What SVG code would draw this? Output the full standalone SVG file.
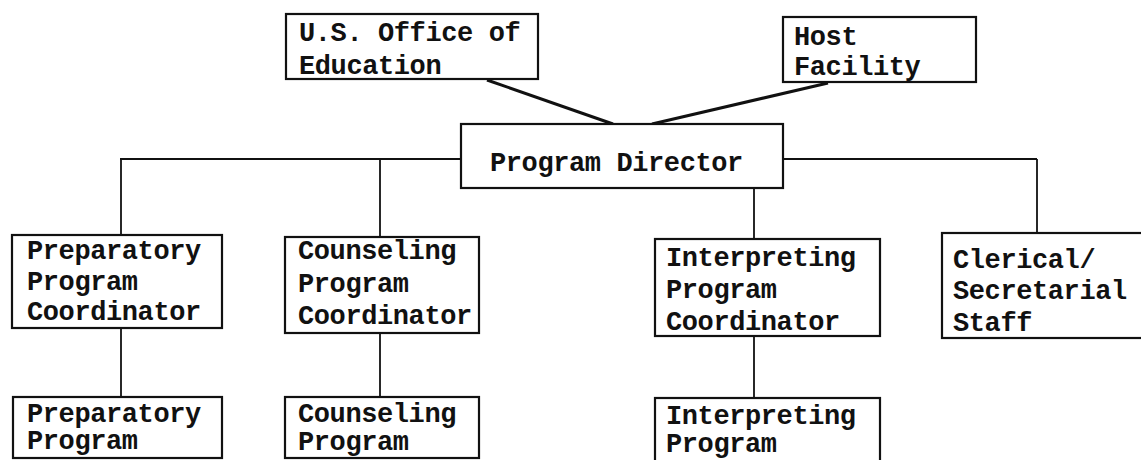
<svg xmlns="http://www.w3.org/2000/svg" width="1141" height="460" viewBox="0 0 1141 460">
<style>
.box{fill:#fff;stroke:#111;stroke-width:2.2}
.t{font-family:"Liberation Mono","DejaVu Sans Mono",monospace;font-size:27px;letter-spacing:-0.4px;fill:#111;font-weight:bold}
.c{stroke:#111;stroke-width:1.8;fill:none}
.d{stroke:#111;stroke-width:3;fill:none}
</style>
<rect width="1141" height="460" fill="#fff"/>
<g id="connectors">
<line class="d" x1="487" y1="80" x2="613" y2="124"/>
<line class="d" x1="828" y1="83" x2="652" y2="124"/>
<line class="c" x1="120" y1="159" x2="461" y2="159"/>
<line class="c" x1="783" y1="159" x2="1037" y2="159"/>
<line class="c" x1="121" y1="159" x2="121" y2="235"/>
<line class="c" x1="380" y1="159" x2="380" y2="237"/>
<line class="c" x1="754" y1="188" x2="754" y2="239"/>
<line class="c" x1="1037" y1="159" x2="1037" y2="233"/>
<line class="c" x1="121" y1="328" x2="121" y2="397"/>
<line class="c" x1="380" y1="333" x2="380" y2="397"/>
<line class="c" x1="754" y1="336" x2="754" y2="398"/>
</g>
<g id="us-office">
<rect class="box" x="286" y="14" width="252" height="65"/>
<text class="t" x="299" y="41">U.S. Office of</text>
<text class="t" x="299" y="74">Education</text>
</g>
<g id="host-facility">
<rect class="box" x="783" y="17" width="193" height="65"/>
<text class="t" x="794" y="45">Host</text>
<text class="t" x="794" y="75">Facility</text>
</g>
<g id="program-director">
<rect class="box" x="461" y="124" width="322" height="64"/>
<text class="t" x="490" y="171">Program Director</text>
</g>
<g id="prep-coord">
<rect class="box" x="12" y="235" width="210" height="93"/>
<text class="t" x="27" y="259">Preparatory</text>
<text class="t" x="27" y="290">Program</text>
<text class="t" x="27" y="320">Coordinator</text>
</g>
<g id="couns-coord">
<rect class="box" x="285" y="237" width="194" height="96"/>
<text class="t" x="298" y="259">Counseling</text>
<text class="t" x="298" y="292">Program</text>
<text class="t" x="298" y="324">Coordinator</text>
</g>
<g id="interp-coord">
<rect class="box" x="655" y="239" width="225" height="97"/>
<text class="t" x="666" y="266">Interpreting</text>
<text class="t" x="666" y="298">Program</text>
<text class="t" x="666" y="330">Coordinator</text>
</g>
<g id="clerical">
<rect class="box" x="942" y="233" width="210" height="105"/>
<text class="t" x="953" y="268">Clerical/</text>
<text class="t" x="953" y="299">Secretarial</text>
<text class="t" x="953" y="331">Staff</text>
</g>
<g id="prep-program">
<rect class="box" x="13" y="397" width="209" height="61"/>
<text class="t" x="27" y="422">Preparatory</text>
<text class="t" x="27" y="449">Program</text>
</g>
<g id="couns-program">
<rect class="box" x="285" y="397" width="194" height="61"/>
<text class="t" x="298" y="422">Counseling</text>
<text class="t" x="298" y="450">Program</text>
</g>
<g id="interp-program">
<rect class="box" x="655" y="398" width="225" height="66"/>
<text class="t" x="666" y="424">Interpreting</text>
<text class="t" x="666" y="452">Program</text>
</g>
</svg>
